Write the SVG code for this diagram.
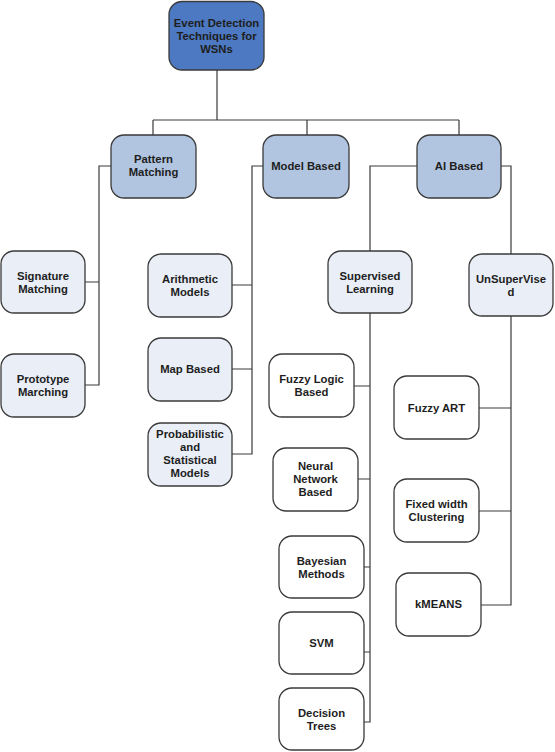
<svg xmlns="http://www.w3.org/2000/svg" width="555" height="752" viewBox="0 0 555 752">
<style>
rect{stroke:#3a3a3a;stroke-width:1.3}
.r{fill:#4c79c1}
.l1{fill:#b1c5e0}
.l2{fill:#e9eef7}
.lf{fill:#ffffff}
text{font-family:"Liberation Sans",Arial,sans-serif;font-weight:bold;font-size:11.3px;fill:#1e1e1e;text-anchor:middle}
#connectors path{fill:none;stroke:#3a3a3a;stroke-width:1.2}
</style>
<rect width="555" height="752" fill="#fff" style="stroke:none"/>
<g id="connectors">
<path d="M217 70V120M153 120H459M153 120V135M307 120V135M459 120V135"/>
<path d="M111 166H99V385H85M99 282H85"/>
<path d="M263 166H252V454H232M252 285H232M252 369H232"/>
<path d="M417 166H370V251M501 166H511V254"/>
<path d="M370 313V722H364M370 386H354M370 479H358M370 567H364M370 652H364"/>
<path d="M511 316V605H481M511 408H479M511 511H479"/>
</g>
<g id="root"><rect class="r" x="169" y="1.5" width="95" height="68.5" rx="13"/><text x="216.5" y="27">Event Detection</text><text x="216.5" y="40">Techniques for</text><text x="216.5" y="53">WSNs</text></g>
<g id="pattern"><rect class="l1" x="111" y="135" width="85" height="63" rx="13"/><text x="153.5" y="163">Pattern</text><text x="153.5" y="176">Matching</text></g>
<g id="model"><rect class="l1" x="263" y="135" width="86" height="63" rx="13"/><text x="306" y="170">Model Based</text></g>
<g id="ai"><rect class="l1" x="417" y="135" width="84" height="63" rx="13"/><text x="459" y="170">AI Based</text></g>
<g id="signature"><rect class="l2" x="1" y="251" width="84" height="62" rx="13"/><text x="43" y="280">Signature</text><text x="43" y="293">Matching</text></g>
<g id="prototype"><rect class="l2" x="1" y="354" width="84" height="63" rx="13"/><text x="43" y="383">Prototype</text><text x="43" y="396">Marching</text></g>
<g id="arith"><rect class="l2" x="148" y="254" width="84" height="63" rx="13"/><text x="190" y="283">Arithmetic</text><text x="190" y="296">Models</text></g>
<g id="map"><rect class="l2" x="148" y="338" width="84" height="63" rx="13"/><text x="190" y="373">Map Based</text></g>
<g id="prob"><rect class="l2" x="148" y="423" width="84" height="63" rx="13"/><text x="190" y="438">Probabilistic</text><text x="190" y="451">and</text><text x="190" y="464">Statistical</text><text x="190" y="477">Models</text></g>
<g id="supervised"><rect class="l2" x="328" y="251" width="84" height="62" rx="13"/><text x="370" y="280">Supervised</text><text x="370" y="293">Learning</text></g>
<g id="unsupervised"><rect class="l2" x="469" y="254" width="84" height="62" rx="13"/><text x="511" y="283">UnSuperVise</text><text x="511" y="296">d</text></g>
<g id="fuzzylogic"><rect class="lf" x="269" y="354" width="85" height="63" rx="13"/><text x="311.5" y="383">Fuzzy Logic</text><text x="311.5" y="396">Based</text></g>
<g id="neural"><rect class="lf" x="273" y="448" width="85" height="63" rx="13"/><text x="315.5" y="470">Neural</text><text x="315.5" y="483">Network</text><text x="315.5" y="496">Based</text></g>
<g id="bayes"><rect class="lf" x="279" y="536" width="85" height="62" rx="13"/><text x="321.5" y="565">Bayesian</text><text x="321.5" y="578">Methods</text></g>
<g id="svm"><rect class="lf" x="279" y="612" width="85" height="62" rx="13"/><text x="321.5" y="647">SVM</text></g>
<g id="dtrees"><rect class="lf" x="279" y="688" width="85" height="62" rx="13"/><text x="321.5" y="717">Decision</text><text x="321.5" y="730">Trees</text></g>
<g id="fuzzyart"><rect class="lf" x="394" y="376" width="85" height="63" rx="13"/><text x="436.5" y="412">Fuzzy ART</text></g>
<g id="fixed"><rect class="lf" x="394" y="479" width="85" height="63" rx="13"/><text x="436.5" y="508">Fixed width</text><text x="436.5" y="521">Clustering</text></g>
<g id="kmeans"><rect class="lf" x="396" y="573" width="85" height="63" rx="13"/><text x="438.5" y="608">kMEANS</text></g>
</svg>
